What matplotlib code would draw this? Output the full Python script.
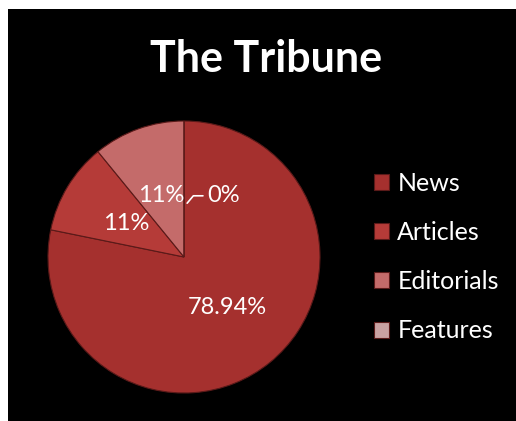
import numpy as np
import matplotlib.pyplot as plt
from matplotlib.patches import Rectangle

categories = ['News', 'Articles', 'Editorials', 'Features']
values = [78.94, 11, 11, 0]
labels = ['78.94%', '11%', '11%', '0%']
colors = ['#a5302e', '#b53b38', '#c46b6a', '#c9a2a2']

plt.rcParams['font.family'] = ['Lato', 'DejaVu Sans']

fig = plt.figure(figsize=(5.16, 4.21), dpi=100, facecolor='white')
fig.patches.append(Rectangle((8 / 516, 0), 508 / 516, 412 / 421, transform=fig.transFigure,
                             facecolor='black', edgecolor='none', zorder=-1))

# pie centre ~ (184, 257) px from top, radius ~136 px
r = 136
lim = 1.06
w = r * lim * 2
ax = fig.add_axes([(184 - r * lim) / 516, (164 - r * lim) / 421, w / 516, w / 421])
ax.set_facecolor('none')

wedges, _ = ax.pie(values, colors=colors, startangle=90, counterclock=False,
                   wedgeprops=dict(edgecolor='#5a1a19', linewidth=0.8))
ax.set_xlim(-lim, lim)
ax.set_ylim(-lim, lim)
ax.set_aspect('equal')
ax.axis('off')

for wdg, lab, v in zip(wedges, labels, values):
    mid = np.deg2rad((wdg.theta1 + wdg.theta2) / 2)
    if v > 0:
        ax.text(0.5 * np.cos(mid), 0.48 * np.sin(mid), lab, color='white',
                fontsize=17, ha='center', va='center')
    else:
        ax.annotate(lab, xy=(0.01, 0.38), xytext=(0.17, 0.45), color='white', fontsize=17,
                    ha='left', va='center',
                    arrowprops=dict(arrowstyle='-', color='white', lw=1.2, shrinkA=1,
                                    connectionstyle='angle,angleA=0,angleB=50,rad=0'))

fig.text(266 / 516, (421 - 59) / 421, 'The Tribune', color='white', fontsize=31,
         fontweight='bold', ha='center', va='center')

fig.legend(wedges, categories, loc='center left', bbox_to_anchor=(366 / 516, 164 / 421),
           frameon=False, labelcolor='white', fontsize=18, handlelength=0.6,
           handleheight=0.6, handletextpad=0.35, labelspacing=1.05, borderaxespad=0,
           borderpad=0.3)

fig.savefig('out.png', dpi=100, facecolor='white')
